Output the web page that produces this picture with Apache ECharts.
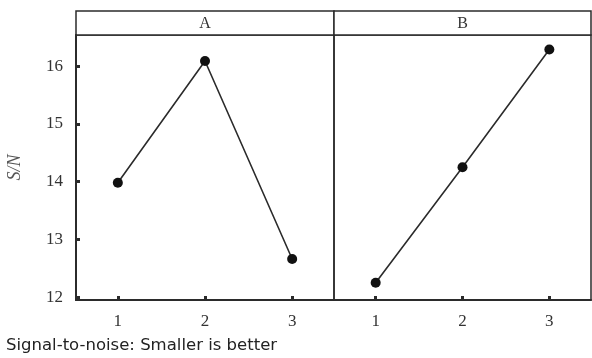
<!DOCTYPE html>
<html>
<head>
<meta charset="utf-8">
<script src="https://cdn.jsdelivr.net/npm/echarts@6/dist/echarts.min.js"></script>
<style>
  html, body { margin: 0; padding: 0; background: #fff; }
  #main { width: 592px; height: 358px; }
</style>
</head>
<body>
<div id="main"></div>
<script>
// Main effects plot for S/N ratios, one panel per factor
const factors = ['A', 'B'];
const levels = [1, 2, 3];
const snA = [13.98, 16.09, 12.66];
const snB = [12.25, 14.25, 16.29];
const yTicks = [12, 13, 14, 15, 16];
const footnote = 'Signal-to-noise: Smaller is better';

const ink = '#2b2b2b';
const serif = '"Liberation Serif", "DejaVu Serif", serif';

const panelLeft = 76, panelSplit = 334, panelRight = 591;
const plotTop = 35, plotBottom = 300, stripTop = 11;

const grids = [
  { left: panelLeft, top: plotTop, width: panelSplit - panelLeft, height: plotBottom - plotTop },
  { left: panelSplit, top: plotTop, width: panelRight - panelSplit, height: plotBottom - plotTop }
].map(g => Object.assign(g, { show: true, borderColor: ink, borderWidth: 1.5, backgroundColor: 'transparent' }));

function xAxisFor(i) {
  return {
    type: 'value', gridIndex: i, min: 0.52, max: 3.48,
    axisLine: { show: true, onZero: false, lineStyle: { color: ink, width: 2 } },
    axisTick: { show: true, inside: true, length: 4, lineStyle: { color: ink, width: 3 }, customValues: levels },
    axisLabel: { color: '#333', fontFamily: serif, fontSize: 17, margin: 13, customValues: levels },
    splitLine: { show: false }
  };
}

function yAxisFor(i) {
  return {
    type: 'value', gridIndex: i, min: 11.95, max: 16.54,
    name: i === 0 ? 'S/N' : '',
    nameLocation: 'middle', nameGap: 52, nameRotate: 90,
    nameTextStyle: { fontFamily: serif, fontStyle: 'italic', fontSize: 18, color: '#555' },
    axisLine: { show: i === 0, onZero: false, lineStyle: { color: ink, width: 2 } },
    axisTick: { show: i === 0, inside: true, length: 4, lineStyle: { color: ink, width: 3 }, customValues: yTicks },
    axisLabel: { show: i === 0, color: '#333', fontFamily: serif, fontSize: 17, margin: 13, customValues: yTicks },
    splitLine: { show: false }
  };
}

function seriesFor(i, values) {
  return {
    type: 'line', xAxisIndex: i, yAxisIndex: i,
    data: levels.map((lv, k) => [lv, values[k]]),
    symbol: 'circle', symbolSize: 10,
    itemStyle: { color: '#111' },
    lineStyle: { color: ink, width: 1.6 },
    animation: false
  };
}

// factor name strips above each panel
const strips = factors.map((f, i) => {
  const x0 = i === 0 ? panelLeft : panelSplit;
  const x1 = i === 0 ? panelSplit : panelRight;
  return {
    type: 'group',
    children: [
      { type: 'rect', shape: { x: x0, y: stripTop, width: x1 - x0, height: plotTop - stripTop },
        style: { fill: '#fff', stroke: ink, lineWidth: 1.5 } },
      { type: 'text', x: (x0 + x1) / 2, y: (stripTop + plotTop) / 2 + 1,
        style: { text: f, fill: '#333', font: '16px ' + serif, textAlign: 'center', textVerticalAlign: 'middle' } }
    ]
  };
});

const chart = echarts.init(document.getElementById('main'), null, { renderer: 'canvas' });
chart.setOption({
  backgroundColor: '#fff',
  animation: false,
  grid: grids,
  xAxis: [xAxisFor(0), xAxisFor(1)],
  yAxis: [yAxisFor(0), yAxisFor(1)],
  series: [seriesFor(0, snA), seriesFor(1, snB)],
  graphic: strips.concat([
    { type: 'text', x: 6, y: 337,
      style: { text: footnote, fill: '#222', font: '16.5px "DejaVu Sans", Verdana, sans-serif', textVerticalAlign: 'top' } }
  ])
});
</script>
</body>
</html>
